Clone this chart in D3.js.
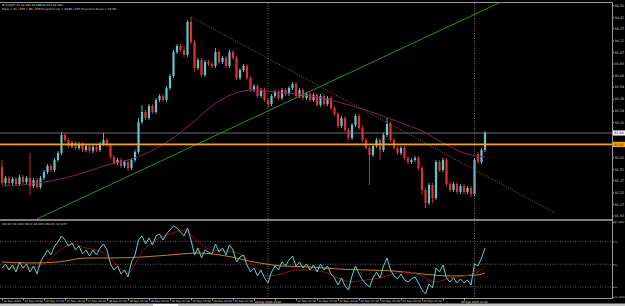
<!DOCTYPE html>
<html>
<head>
<meta charset="utf-8">
<script src="https://cdnjs.cloudflare.com/ajax/libs/d3/7.8.5/d3.min.js"></script>
<style>
html, body { margin: 0; padding: 0; background: #000; overflow: hidden; }
svg { display: block; }
text { font-family: "DejaVu Sans", sans-serif; }
</style>
</head>
<body>
<svg id="chart" width="625" height="306"></svg>
<script>
// AUDJPY candles
var opens = [
92.538, 92.338, 92.400, 92.338, 92.388, 92.325, 92.413, 92.350, 92.400, 92.300,
92.375, 92.288, 92.400, 92.475, 92.550, 92.500, 92.625, 92.713, 92.938, 92.875,
92.800, 92.838, 92.775, 92.825, 92.750, 92.800, 92.738, 92.788, 92.750, 92.825,
92.875, 92.813, 92.663, 92.588, 92.625, 92.550, 92.600, 92.525, 92.625, 92.725,
93.100, 93.225, 93.150, 93.300, 93.225, 93.375, 93.425, 93.375, 93.525, 93.675,
93.975, 94.050, 94.000, 93.938, 94.350, 94.100, 93.775, 93.875, 93.688, 93.850,
93.825, 93.800, 93.975, 93.850, 93.900, 93.800, 93.975, 93.900, 93.650, 93.750,
93.800, 93.650, 93.500, 93.550, 93.425, 93.500, 93.375, 93.325, 93.425, 93.475,
93.400, 93.500, 93.450, 93.525, 93.575, 93.425, 93.500, 93.400, 93.450, 93.375,
93.438, 93.313, 93.425, 93.325, 93.400, 93.275, 93.200, 93.050, 93.150, 93.000,
92.900, 93.063, 93.175, 93.025, 92.875, 92.775, 92.688, 92.800, 92.875, 92.750,
92.938, 93.075, 92.875, 92.775, 92.713, 92.775, 92.650, 92.600, 92.625, 92.650,
92.525, 92.250, 92.088, 92.313, 92.150, 92.600, 92.500, 92.625, 92.325, 92.250,
92.325, 92.225, 92.300, 92.225, 92.275, 92.200, 92.700, 92.600, 92.750];
var highs = [
92.625, 92.425, 92.425, 92.413, 92.413, 92.438, 92.438, 92.425, 92.713, 92.400,
92.400, 92.425, 92.500, 92.575, 92.575, 92.650, 92.738, 92.975, 92.963, 92.900,
92.863, 92.863, 92.850, 92.850, 92.825, 92.825, 92.813, 92.813, 92.850, 92.963,
92.900, 92.838, 92.688, 92.650, 92.650, 92.625, 92.625, 92.650, 92.750, 93.150,
93.313, 93.250, 93.325, 93.325, 93.400, 93.450, 93.450, 93.550, 93.700, 94.000,
94.075, 94.075, 94.050, 94.375, 94.413, 94.125, 93.900, 93.900, 93.875, 93.875,
93.850, 94.025, 94.000, 93.925, 93.925, 94.000, 94.000, 93.925, 93.775, 93.825,
93.825, 93.675, 93.575, 93.575, 93.525, 93.525, 93.400, 93.450, 93.500, 93.500,
93.525, 93.525, 93.550, 93.600, 93.600, 93.525, 93.525, 93.475, 93.475, 93.463,
93.463, 93.450, 93.450, 93.425, 93.425, 93.300, 93.225, 93.175, 93.175, 93.025,
93.088, 93.200, 93.200, 93.050, 92.900, 92.800, 92.825, 92.900, 92.900, 92.963,
93.150, 93.100, 92.900, 92.800, 92.800, 92.800, 92.675, 92.650, 92.675, 92.675,
92.550, 92.275, 92.338, 92.338, 92.625, 92.625, 92.650, 92.650, 92.350, 92.350,
92.350, 92.325, 92.325, 92.300, 92.300, 92.650, 92.725, 92.775, 92.988];
var lows = [
92.313, 92.313, 92.313, 92.313, 92.300, 92.300, 92.325, 92.325, 92.188, 92.275,
92.263, 92.263, 92.375, 92.450, 92.475, 92.475, 92.600, 92.688, 92.850, 92.775,
92.775, 92.750, 92.750, 92.725, 92.725, 92.713, 92.713, 92.725, 92.725, 92.800,
92.788, 92.638, 92.563, 92.563, 92.525, 92.525, 92.488, 92.500, 92.600, 92.700,
93.075, 93.125, 93.125, 93.200, 93.200, 93.350, 93.350, 93.350, 93.500, 93.650,
93.950, 93.975, 93.913, 93.913, 94.075, 93.725, 93.750, 93.663, 93.663, 93.800,
93.775, 93.775, 93.825, 93.825, 93.775, 93.775, 93.875, 93.625, 93.625, 93.725,
93.625, 93.475, 93.475, 93.400, 93.400, 93.350, 93.275, 93.300, 93.400, 93.375,
93.375, 93.425, 93.425, 93.500, 93.400, 93.400, 93.375, 93.375, 93.350, 93.350,
93.288, 93.288, 93.300, 93.300, 93.250, 93.175, 93.025, 93.025, 92.975, 92.875,
92.875, 93.038, 93.000, 92.850, 92.750, 92.313, 92.663, 92.775, 92.625, 92.725,
92.913, 92.850, 92.750, 92.688, 92.688, 92.625, 92.575, 92.575, 92.600, 92.500,
92.188, 92.025, 92.063, 92.088, 92.125, 92.475, 92.475, 92.300, 92.225, 92.225,
92.200, 92.200, 92.200, 92.200, 92.163, 92.175, 92.575, 92.575, 92.725];
var closes = [
92.338, 92.400, 92.338, 92.388, 92.325, 92.413, 92.350, 92.400, 92.300, 92.375,
92.288, 92.400, 92.475, 92.550, 92.500, 92.625, 92.713, 92.938, 92.875, 92.800,
92.838, 92.775, 92.825, 92.750, 92.800, 92.738, 92.788, 92.750, 92.825, 92.875,
92.813, 92.663, 92.588, 92.625, 92.550, 92.600, 92.525, 92.625, 92.725, 93.100,
93.225, 93.150, 93.300, 93.225, 93.375, 93.425, 93.375, 93.525, 93.675, 93.975,
94.050, 94.000, 93.938, 94.350, 94.100, 93.775, 93.875, 93.688, 93.850, 93.825,
93.800, 93.975, 93.850, 93.900, 93.800, 93.975, 93.900, 93.650, 93.750, 93.800,
93.650, 93.500, 93.550, 93.425, 93.500, 93.375, 93.325, 93.425, 93.475, 93.400,
93.500, 93.450, 93.525, 93.575, 93.425, 93.500, 93.400, 93.450, 93.375, 93.438,
93.313, 93.425, 93.325, 93.400, 93.275, 93.200, 93.050, 93.150, 93.000, 92.900,
93.063, 93.175, 93.025, 92.875, 92.775, 92.688, 92.800, 92.875, 92.750, 92.938,
93.075, 92.875, 92.775, 92.713, 92.775, 92.650, 92.600, 92.625, 92.650, 92.525,
92.250, 92.088, 92.313, 92.150, 92.600, 92.500, 92.625, 92.325, 92.250, 92.325,
92.225, 92.300, 92.225, 92.275, 92.200, 92.625, 92.600, 92.750, 92.963];

// moving average on price (sampled every 6 bars)
var maIdx = [0, 6, 12, 18, 24, 30, 36, 42, 48, 54, 60, 66, 72, 78, 84, 90, 96, 102, 108, 114, 120, 126, 132, 138];
var maVals = [92.300, 92.313, 92.350, 92.400, 92.475, 92.563, 92.625, 92.725, 92.875, 93.075, 93.300, 93.450,
              93.500, 93.475, 93.450, 93.413, 93.350, 93.275, 93.188, 93.088, 92.988, 92.838, 92.713, 92.663];

// objects drawn on chart: [barIndex, price]
var downTrend = [[54, 94.413], [158, 91.963]];
var upTrend = [[10, 91.888], [160, 94.956]];
var levelPrice = 92.820;
var vlineIdx = [76, 135];
var vlineLabels = ["19 Sep 2023 13:00", "25 Sep 2023 11:00"];

// RSI window
var rsiVals = [
46.72, 50.25, 44.96, 49.37, 43.20, 52.01, 46.72, 50.25, 43.20, 48.49,
41.44, 52.01, 57.30, 62.58, 58.18, 66.11, 69.63, 74.92, 71.39, 66.11,
68.75, 62.58, 66.11, 59.06, 62.58, 57.30, 62.58, 58.18, 64.34, 67.87,
62.58, 50.25, 44.96, 48.49, 41.44, 44.96, 38.80, 52.01, 58.18, 71.39,
74.92, 67.87, 73.15, 66.99, 74.92, 76.68, 71.39, 76.68, 80.20, 83.73,
81.96, 78.44, 74.92, 81.96, 71.39, 58.18, 64.34, 55.53, 62.58, 60.82,
59.06, 67.87, 60.82, 64.34, 58.18, 66.99, 62.58, 52.01, 56.42, 58.18,
49.37, 43.20, 46.72, 39.68, 44.96, 37.91, 33.51, 43.20, 48.49, 44.96,
52.01, 48.49, 53.77, 57.30, 48.49, 52.01, 46.72, 50.25, 44.96, 49.37,
43.20, 50.25, 44.96, 48.49, 41.44, 37.91, 31.75, 37.91, 30.87, 27.34,
39.68, 48.49, 41.44, 36.15, 32.63, 29.99, 37.91, 43.20, 37.91, 48.49,
55.53, 44.96, 39.68, 37.03, 41.44, 36.15, 34.39, 37.03, 38.80, 33.51,
27.34, 23.82, 32.63, 29.10, 46.72, 43.20, 49.37, 37.91, 34.39, 37.91,
33.51, 37.03, 33.51, 36.15, 31.75, 50.25, 48.49, 55.53, 64.34];
var rsiFastIdx = [0, 4, 8, 12, 16, 20, 24, 28, 32, 36, 40, 44, 48, 52, 56, 60, 64, 68, 72, 76, 80, 84,
                  88, 92, 96, 100, 104, 108, 112, 116, 120, 124, 128, 132, 136, 138];
var rsiFastVals = [46.72, 46.72, 46.72, 50.25, 60.82, 67.87, 64.34, 61.70, 52.01, 42.32, 60.82, 71.39,
                   76.68, 80.20, 69.63, 62.58, 61.70, 59.06, 48.49, 39.68, 41.44, 44.96, 44.96, 43.20,
                   37.91, 34.39, 36.15, 37.91, 41.44, 43.20, 39.68, 34.39, 37.91, 39.68, 43.20, 48.49];
var rsiSlowIdx = [0, 8, 16, 24, 32, 40, 48, 56, 64, 72, 80, 88, 96, 104, 112, 120, 128, 136, 138];
var rsiSlowVals = [52.01, 51.13, 52.01, 55.53, 55.53, 56.42, 58.18, 59.94, 57.30, 52.01, 48.49, 47.61,
                   45.84, 44.96, 44.08, 41.44, 39.68, 40.56, 42.32];
var rsiLevels = [70, 50, 30];
var rsiMax = 87.2467, rsiMin = 21.1353;

// axis labels
var priceTicks = [94.56, 94.41, 94.27, 94.12, 93.97, 93.83, 93.68, 93.54, 93.39, 93.24,
                  93.10, 92.95, 92.80, 92.66, 92.51, 92.37, 92.22, 92.07, 91.93];
var timeIdx = [0, 6, 12, 18, 24, 30, 36, 42, 48, 54, 60, 66, 72, 78, 84, 90, 96, 102, 108, 114, 120, 126, 132];
var timeLabels = ["14 Sep 2023", "14 Sep 23:00", "15 Sep 07:00", "15 Sep 15:00", "17 Sep 23:00",
                  "18 Sep 07:00", "18 Sep 15:00", "18 Sep 23:00", "19 Sep 07:00", "19 Sep 15:00",
                  "19 Sep 23:00", "20 Sep 07:00", "20 Sep 15:00", "20 Sep 23:00", "21 Sep 07:00",
                  "21 Sep 15:00", "21 Sep 23:00", "22 Sep 07:00", "22 Sep 15:00", "24 Sep 23:00",
                  "25 Sep 07:00", "25 Sep 15:00", "25 Sep 23:00"];

var W = 625, H = 306;
var plotR = 612.5;
var mainTop = 3, mainBot = 219, rsiTop = 221, rsiBot = 298.5;
var K = 0.4; // tiny text is drawn large and scaled down (browser minimum font size)

var svg = d3.select("#chart");
svg.append("rect").attr("width", W).attr("height", H).attr("fill", "#000");

function tiny(sel, size) {
	sel.each(function() {
		var t = d3.select(this);
		var tx = +t.attr("x") || 0, ty = +t.attr("y") || 0;
		t.attr("x", 0).attr("y", 0)
			.attr("transform", "translate(" + tx + "," + ty + ") scale(" + K + ")")
			.attr("font-size", size / K);
	});
	return sel;
}

var x = d3.scaleLinear().domain([0, 138]).range([2, 485]);
var y = d3.scaleLinear().domain([94.625, 91.9]).range([0, 218]);
var yR = d3.scaleLinear().domain([rsiMax, rsiMin]).range([222, 297]);

var defs = svg.append("defs");
defs.append("clipPath").attr("id", "clipMain").append("rect")
	.attr("x", 0).attr("y", mainTop).attr("width", plotR).attr("height", mainBot - mainTop);
defs.append("clipPath").attr("id", "clipRsi").append("rect")
	.attr("x", 0).attr("y", rsiTop).attr("width", plotR).attr("height", rsiBot - rsiTop);

var bars = closes.map(function(c, i) {
	return {i: i, o: opens[i], h: highs[i], l: lows[i], c: c};
});
var last = closes[closes.length - 1];

var main = svg.append("g").attr("clip-path", "url(#clipMain)");

// bid line
main.append("line")
	.attr("x1", 0).attr("x2", plotR)
	.attr("y1", y(last)).attr("y2", y(last))
	.attr("stroke", "#33363b").attr("stroke-width", 2);

// candles
var cg = main.selectAll(".bar").data(bars).enter().append("g");
cg.append("line")
	.attr("x1", function(d) { return x(d.i); })
	.attr("x2", function(d) { return x(d.i); })
	.attr("y1", function(d) { return y(d.h); })
	.attr("y2", function(d) { return y(d.l); })
	.attr("stroke", function(d) { return d.c >= d.o ? "#63c5cb" : "#de3136"; })
	.attr("stroke-width", 0.9);
cg.append("rect")
	.attr("x", function(d) { return x(d.i) - 1.1; })
	.attr("width", 2.2)
	.attr("y", function(d) { return y(Math.max(d.o, d.c)); })
	.attr("height", function(d) { return Math.max(0.8, Math.abs(y(d.o) - y(d.c))); })
	.attr("fill", function(d) { return d.c >= d.o ? "#63c5cb" : "#de3136"; });

// moving average
var maData = maIdx.map(function(d, k) { return [d, maVals[k]]; });
main.append("path")
	.attr("d", d3.line().curve(d3.curveMonotoneX)
		.x(function(d) { return x(d[0]); })
		.y(function(d) { return y(d[1]); })(maData))
	.attr("fill", "none").attr("stroke", "#8c1d69").attr("stroke-width", 1);

var tl = d3.line().x(function(d) { return x(d[0]); }).y(function(d) { return y(d[1]); });
main.append("path").attr("d", tl(downTrend))
	.attr("fill", "none").attr("stroke", "#8f6c1c").attr("stroke-width", 1)
	.attr("stroke-dasharray", "1,1.5");
main.append("path").attr("d", tl(upTrend))
	.attr("fill", "none").attr("stroke", "#1c9a1c").attr("stroke-width", 1);

// horizontal level
main.append("line")
	.attr("x1", 0).attr("x2", plotR)
	.attr("y1", y(levelPrice)).attr("y2", y(levelPrice))
	.attr("stroke", "#ffa500").attr("stroke-width", 1.6);

// RSI window
var rg = svg.append("g").attr("clip-path", "url(#clipRsi)");
rg.selectAll(".lvl").data(rsiLevels).enter().append("line")
	.attr("x1", 0).attr("x2", plotR)
	.attr("y1", function(d) { return yR(d); }).attr("y2", function(d) { return yR(d); })
	.attr("stroke", "#7a7a7a").attr("stroke-width", 0.8).attr("stroke-dasharray", "1,1.5");

var rl = d3.line().x(function(d) { return x(d[0]); }).y(function(d) { return yR(d[1]); });
var rlc = d3.line().curve(d3.curveMonotoneX).x(function(d) { return x(d[0]); }).y(function(d) { return yR(d[1]); });
rg.append("path")
	.attr("d", rlc(rsiSlowIdx.map(function(d, k) { return [d, rsiSlowVals[k]]; })))
	.attr("fill", "none").attr("stroke", "#c8860c").attr("stroke-width", 1);
rg.append("path")
	.attr("d", rlc(rsiFastIdx.map(function(d, k) { return [d, rsiFastVals[k]]; })))
	.attr("fill", "none").attr("stroke", "#8a1616").attr("stroke-width", 1);
rg.append("path")
	.attr("d", rl(rsiVals.map(function(v, i) { return [i, v]; })))
	.attr("fill", "none").attr("stroke", "#67d0d6").attr("stroke-width", 1);

// vertical lines across both windows
svg.selectAll(".vl").data(vlineIdx).enter().append("line")
	.attr("x1", function(d) { return x(d); }).attr("x2", function(d) { return x(d); })
	.attr("y1", mainTop).attr("y2", rsiBot)
	.attr("stroke", "#8a8a8a").attr("stroke-width", 0.8).attr("stroke-dasharray", "1,1.5");

// frame
var frame = svg.append("g").attr("stroke", "#9a9a9a").attr("fill", "none");
frame.append("line").attr("x1", 0).attr("x2", plotR).attr("y1", 2.5).attr("y2", 2.5);
frame.append("line").attr("x1", plotR).attr("x2", plotR).attr("y1", 2.5).attr("y2", rsiBot);
frame.append("line").attr("x1", 0).attr("x2", plotR).attr("y1", rsiBot).attr("y2", rsiBot);
frame.append("line").attr("x1", 0).attr("x2", plotR).attr("y1", 220).attr("y2", 220)
	.attr("stroke", "#a8a8a8").attr("stroke-width", 1.5);

// price axis
var hidden = [last, levelPrice];
var pTicks = priceTicks.filter(function(p) {
	return hidden.every(function(h) { return Math.abs(y(p) - y(h)) > 5; });
});
var pa = svg.append("g").attr("transform", "translate(" + plotR + ",0)")
	.call(d3.axisRight(y).tickValues(pTicks).tickSize(1.5).tickFormat(d3.format(".2f")));
pa.select(".domain").remove();
pa.attr("font-family", "DejaVu Sans");
pa.selectAll("line").attr("stroke", "#a0a0a0");
tiny(pa.selectAll("text").attr("x", 2.2).attr("fill", "#d0d0d0"), 3.3);

var fmt2 = d3.format(".2f");
svg.append("rect").attr("x", plotR + 0.5).attr("y", y(last) - 2.6).attr("width", 12).attr("height", 5.2).attr("fill", "#f2f2f2");
tiny(svg.append("text").attr("x", plotR + 1.8).attr("y", y(last) + 1.2).attr("fill", "#000").text(fmt2(last)), 3.3);
svg.append("rect").attr("x", plotR + 0.5).attr("y", y(levelPrice) - 2.6).attr("width", 12).attr("height", 5.2).attr("fill", "#ffa500");
tiny(svg.append("text").attr("x", plotR + 1.8).attr("y", y(levelPrice) + 1.2).attr("fill", "#000").text(fmt2(levelPrice)), 3.3);

// rsi axis
var rsiTicks = [rsiMax].concat(rsiLevels).concat([rsiMin]);
var ra = svg.append("g").attr("transform", "translate(" + plotR + ",0)")
	.call(d3.axisRight(yR).tickValues(rsiTicks).tickSize(1.5).tickFormat(function(d) { return String(d); }));
ra.select(".domain").remove();
ra.attr("font-family", "DejaVu Sans");
ra.selectAll("line").attr("stroke", "#a0a0a0");
tiny(ra.selectAll("text").attr("x", 1.8).attr("fill", "#d0d0d0"), 2.5);

// time axis
var ta = svg.append("g").attr("transform", "translate(0," + rsiBot + ")")
	.call(d3.axisBottom(x).tickValues(timeIdx).tickSize(2)
		.tickFormat(function(d) { return timeLabels[timeIdx.indexOf(d)]; }));
ta.select(".domain").remove();
ta.attr("font-family", "DejaVu Sans");
ta.selectAll("line").attr("stroke", "#a0a0a0");
tiny(ta.selectAll("text").attr("text-anchor", "start").attr("x", 0.8).attr("y", 1.2)
	.attr("dy", "0.75em").attr("fill", "#d0d0d0"), 2.8);

var vlab = svg.selectAll(".vlab").data(vlineIdx).enter().append("text")
	.attr("x", function(d) { return x(d); }).attr("y", rsiBot + 4)
	.attr("text-anchor", "middle").attr("fill", "#e0e0e0")
	.text(function(d, k) { return vlineLabels[k]; });
tiny(vlab, 2.8);

// regular time labels hidden under the vertical-line labels
var boxes = [];
vlab.each(function() { boxes.push(this.getBoundingClientRect()); });
ta.selectAll("text").each(function() {
	var r = this.getBoundingClientRect();
	var hit = boxes.some(function(b) { return r.left < b.right + 1 && r.right > b.left - 1; });
	if (hit) d3.select(this).remove();
});

// headers
tiny(svg.append("text").attr("x", 2).attr("y", 6.2).attr("fill", "#d8d8d8")
	.text("\u25BC AUDJPY,H1  92.930 92.988 92.913 92.963"), 2.8);
tiny(svg.append("text").attr("x", 2).attr("y", 10).attr("fill", "#d8d8d8")
	.text("Daily \u2248 91 | ATR \u2248 86 | ATR Projection Up \u2248 93.85 | ATR Projection Down \u2248 92.58"), 2.8);
tiny(svg.append("text").attr("x", 2).attr("y", 224.6).attr("fill", "#d8d8d8")
	.text("RSI(14) 64.3441 MA(9) 48.4853 MA(45) 42.3157"), 2.7);

// bottom tab strip
svg.append("rect").attr("x", 0).attr("y", 303.5).attr("width", W).attr("height", 2.5).attr("fill", "#c4c4c4");
svg.append("rect").attr("x", 153).attr("y", 304).attr("width", 25).attr("height", 2).attr("fill", "#fafafa");
</script>
</body>
</html>
